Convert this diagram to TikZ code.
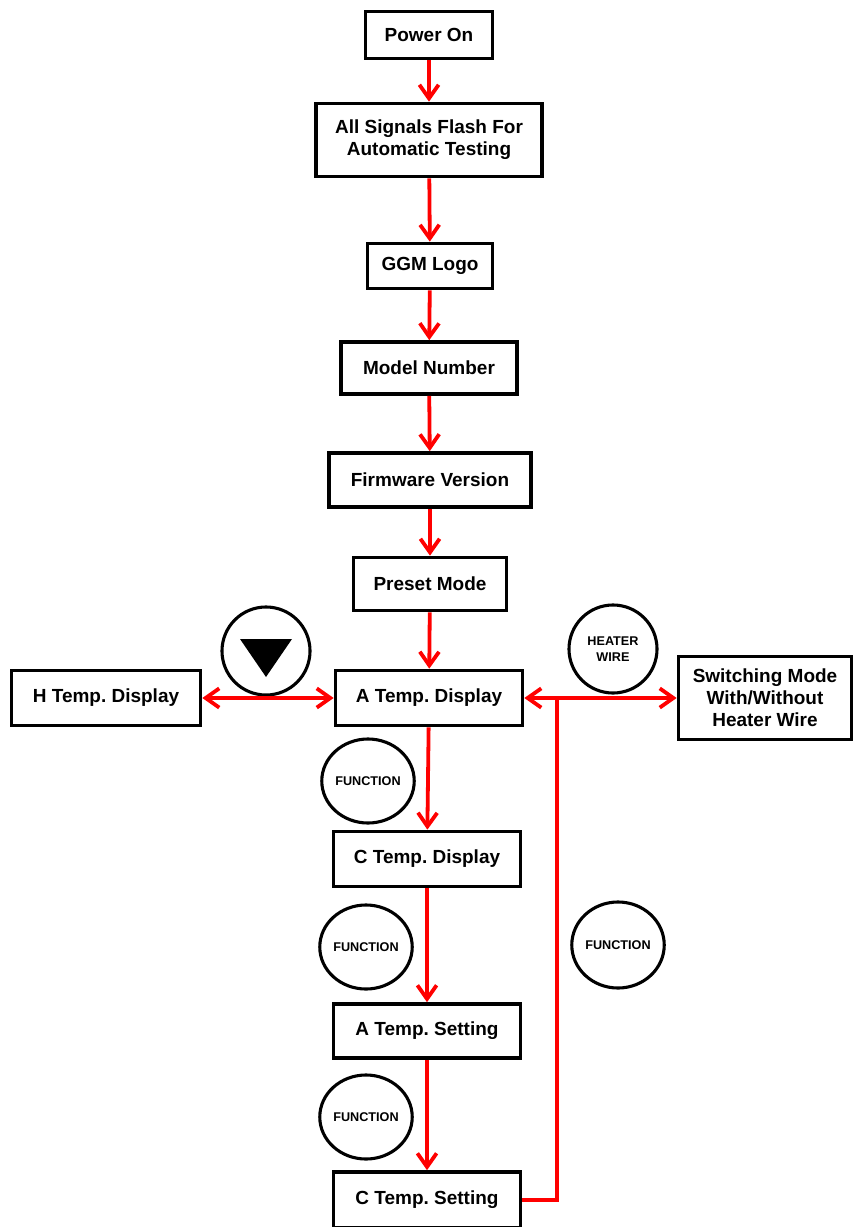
\documentclass[tikz,border=0pt]{standalone}
\usepackage{fontspec}
\setsansfont{Liberation Sans}
\usetikzlibrary{shapes.geometric, arrows.meta}
\frenchspacing
\definecolor{flowRed}{RGB}{255, 0, 0}
\tikzset{
    % Base style for the boxes
    stage/.style={
        rectangle,
        draw=black,
        line width=2.6pt,
        inner sep=0pt,
        align=center,
        font=\sffamily\bfseries\fontsize{13.5}{15.5}\selectfont
    },
    % Round key labels
    keyCircle/.style={
        ellipse,
        draw=black,
        line width=2.2pt,
        inner sep=0pt,
        align=center,
        font=\sffamily\bfseries\fontsize{9}{11}\selectfont
    },
    % Arrow style
    arrow/.style={-{Straight Barb[length=3.4mm, width=4.8mm]}, line width=2.7pt, draw=flowRed},
    dblArrow/.style={{Straight Barb[length=3.4mm, width=4.8mm]}-{Straight Barb[length=3.4mm, width=4.8mm]}, line width=2.7pt, draw=flowRed},
    link/.style={line width=2.7pt, draw=flowRed}
}

\begin{document}
\begin{tikzpicture}[x=0.025cm, y=-0.025cm]

    \useasboundingbox (0,0) rectangle (854,1227);

    % --- MAIN COLUMN (Start-up Sequence) ---
    \node (powerOn) [stage, minimum width=3.175cm, minimum height=1.175cm] at (429,35) {Power On};
    \node (allSignals) [stage, minimum width=5.65cm, minimum height=1.825cm] at (429,140) {All Signals Flash For\\Automatic Testing};
    \node (ggmLogo) [stage, minimum width=3.125cm, minimum height=1.125cm] at (430,266) {GGM Logo};
    \node (modelNumber) [stage, minimum width=4.4cm, minimum height=1.3cm] at (429,368) {Model Number};
    \node (firmware) [stage, minimum width=5.05cm, minimum height=1.35cm] at (430,480) {Firmware Version};
    \node (presetMode) [stage, minimum width=3.825cm, minimum height=1.325cm] at (430,584) {Preset Mode};

    % --- DISPLAY ROW ---
    \node (aTempDisp) [stage, minimum width=4.675cm, minimum height=1.375cm] at (429,698) {A Temp. Display};
    \node (hTempDisp) [stage, minimum width=4.725cm, minimum height=1.375cm] at (106,698) {H Temp. Display};
    \node (switching) [stage, minimum width=4.325cm, minimum height=2.075cm] at (765,698) {Switching Mode\\With/Without\\Heater Wire};

    % --- LOWER COLUMN (Function Key Cycle) ---
    \node (cTempDisp) [stage, minimum width=4.675cm, minimum height=1.375cm] at (427,859) {C Temp. Display};
    \node (aTempSet) [stage, minimum width=4.675cm, minimum height=1.35cm] at (427,1031) {A Temp. Setting};
    \node (cTempSet) [stage, minimum width=4.675cm, minimum height=1.4cm] at (427,1200) {C Temp. Setting};

    % --- Key Labels ---
    \node (downKey) [keyCircle, minimum width=2.2cm, minimum height=2.2cm] at (266,651) {};
    \fill[black] (240,639) -- (292,639) -- (266,677) -- cycle;
    \node (heaterKey) [keyCircle, minimum width=2.2cm, minimum height=2.2cm] at (613,649) {HEATER\\WIRE};
    \node (funcKey1) [keyCircle, minimum width=2.2cm, minimum height=2.1cm] at (368,781) {FUNCTION};
    \node (funcKey2) [keyCircle, minimum width=2.2cm, minimum height=2.1cm] at (366,947) {FUNCTION};
    \node (funcKey3) [keyCircle, minimum width=2.2cm, minimum height=2.15cm] at (618,945) {FUNCTION};
    \node (funcKey4) [keyCircle, minimum width=2.25cm, minimum height=2.1cm] at (366,1117) {FUNCTION};

    % --- Arrows ---
    \draw [arrow] (powerOn) -- (allSignals);
    \draw [arrow] (allSignals) -- (ggmLogo);
    \draw [arrow] (ggmLogo) -- (modelNumber);
    \draw [arrow] (modelNumber) -- (firmware);
    \draw [arrow] (firmware) -- (presetMode);
    \draw [arrow] (presetMode) -- (aTempDisp);
    \draw [dblArrow] (hTempDisp) -- (aTempDisp);
    \draw [arrow] (aTempDisp) -- (cTempDisp);
    \draw [arrow] (cTempDisp) -- (aTempSet);
    \draw [arrow] (aTempSet) -- (cTempSet);

    % Return loop to the heater wire switch
    \coordinate (heaterJoin) at (557,698);
    \draw [link] (cTempSet.east) -| (heaterJoin);
    \draw [arrow] (heaterJoin) -- (aTempDisp.east);
    \draw [arrow] (heaterJoin) -- (switching.west);

\end{tikzpicture}
\end{document}
